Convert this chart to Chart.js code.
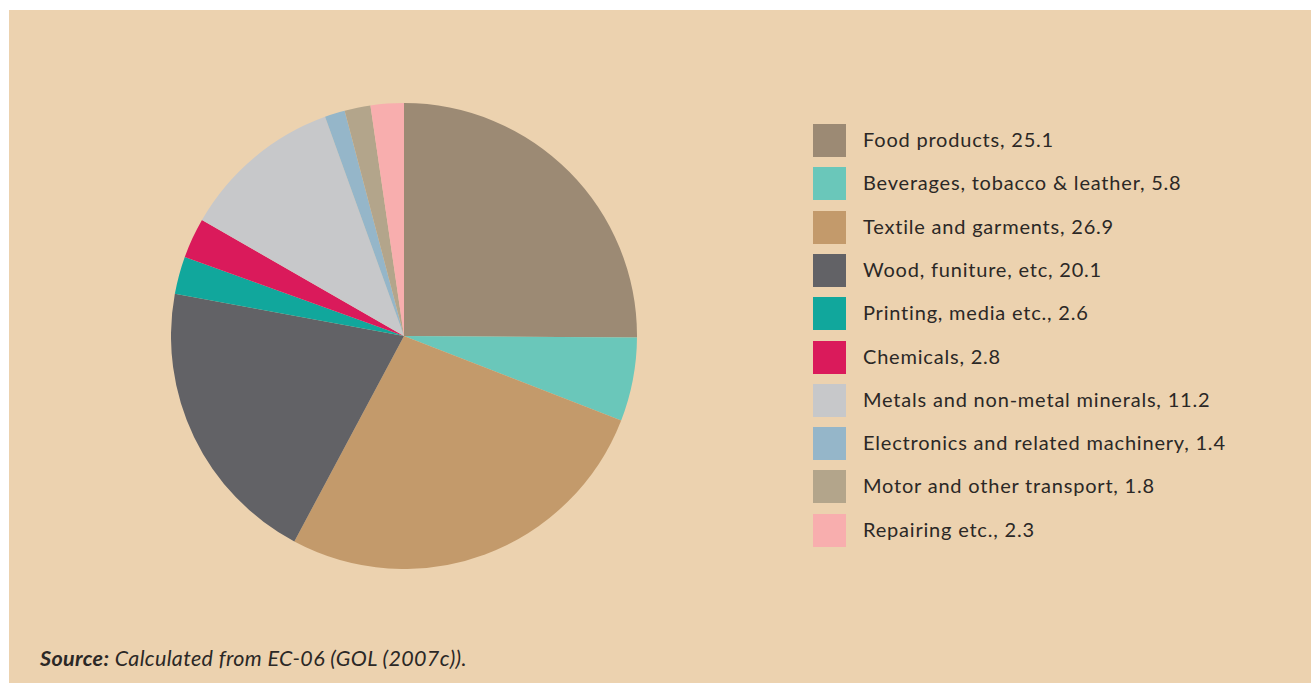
<!DOCTYPE html>
<html>
<head>
<meta charset="utf-8">
<script src="https://cdn.jsdelivr.net/npm/chart.js@4/dist/chart.umd.min.js"></script>
<style>
  html, body { margin: 0; padding: 0; background: #ffffff; }
  body { width: 1311px; height: 683px; position: relative; overflow: hidden; font-family: Lato, "Open Sans", sans-serif; }
  #panel { position: absolute; left: 9px; top: 10px; right: 0; bottom: 0; background: #ECD2AF; }
  #pieWrap { position: absolute; left: 171px; top: 103px; width: 466px; height: 466px; }
  #legend { position: absolute; left: 813px; top: 124px; }
  .row { position: absolute; left: 0; height: 33px; white-space: nowrap; }
  .sw { position: absolute; left: 0; top: 0; width: 33px; height: 33px; }
  .lbl { position: absolute; left: 50px; top: -1px; line-height: 33px; font-size: 20px; letter-spacing: 0.8px; color: #2b2826; }
  #source { position: absolute; left: 40px; top: 645px; font-size: 21.5px; letter-spacing: 0.35px; font-style: italic; color: #2b2826; white-space: nowrap; }
  #source b { font-weight: 700; }
</style>
</head>
<body>
<div id="panel"></div>
<div id="pieWrap"><canvas id="pie"></canvas></div>
<div id="legend"></div>
<div id="source"><b>Source:</b> Calculated from EC-06 (GOL (2007c)).</div>
<script>
// Share of manufacturing units by industry group (%)
const categories = [
  "Food products",
  "Beverages, tobacco & leather",
  "Textile and garments",
  "Wood, funiture, etc",
  "Printing, media etc.",
  "Chemicals",
  "Metals and non-metal minerals",
  "Electronics and related machinery",
  "Motor and other transport",
  "Repairing etc."
];
const shares = [25.1, 5.8, 26.9, 20.1, 2.6, 2.8, 11.2, 1.4, 1.8, 2.3];
const sliceColors = [
  "#9C8A74", "#6AC7BA", "#C39A6B", "#626266", "#11A79C",
  "#DA1A5B", "#C7C8CA", "#95B6C9", "#B3A58B", "#F8AEAE"
];

// Legend rows: swatch + "name, value"
const legend = document.getElementById("legend");
const rowStep = 43.3;
categories.forEach((name, i) => {
  const row = document.createElement("div");
  row.className = "row";
  row.style.top = (i * rowStep) + "px";
  const sw = document.createElement("div");
  sw.className = "sw";
  sw.style.background = sliceColors[i];
  const lbl = document.createElement("div");
  lbl.className = "lbl";
  lbl.textContent = name + ", " + shares[i].toFixed(1);
  row.appendChild(sw);
  row.appendChild(lbl);
  legend.appendChild(row);
});

new Chart(document.getElementById("pie"), {
  type: "pie",
  data: {
    labels: categories,
    datasets: [{
      data: shares,
      backgroundColor: sliceColors,
      borderWidth: 0
    }]
  },
  options: {
    responsive: true,
    maintainAspectRatio: false,
    animation: false,
    layout: { padding: 0 },
    plugins: {
      legend: { display: false },
      tooltip: { enabled: false }
    }
  }
});
</script>
</body>
</html>
